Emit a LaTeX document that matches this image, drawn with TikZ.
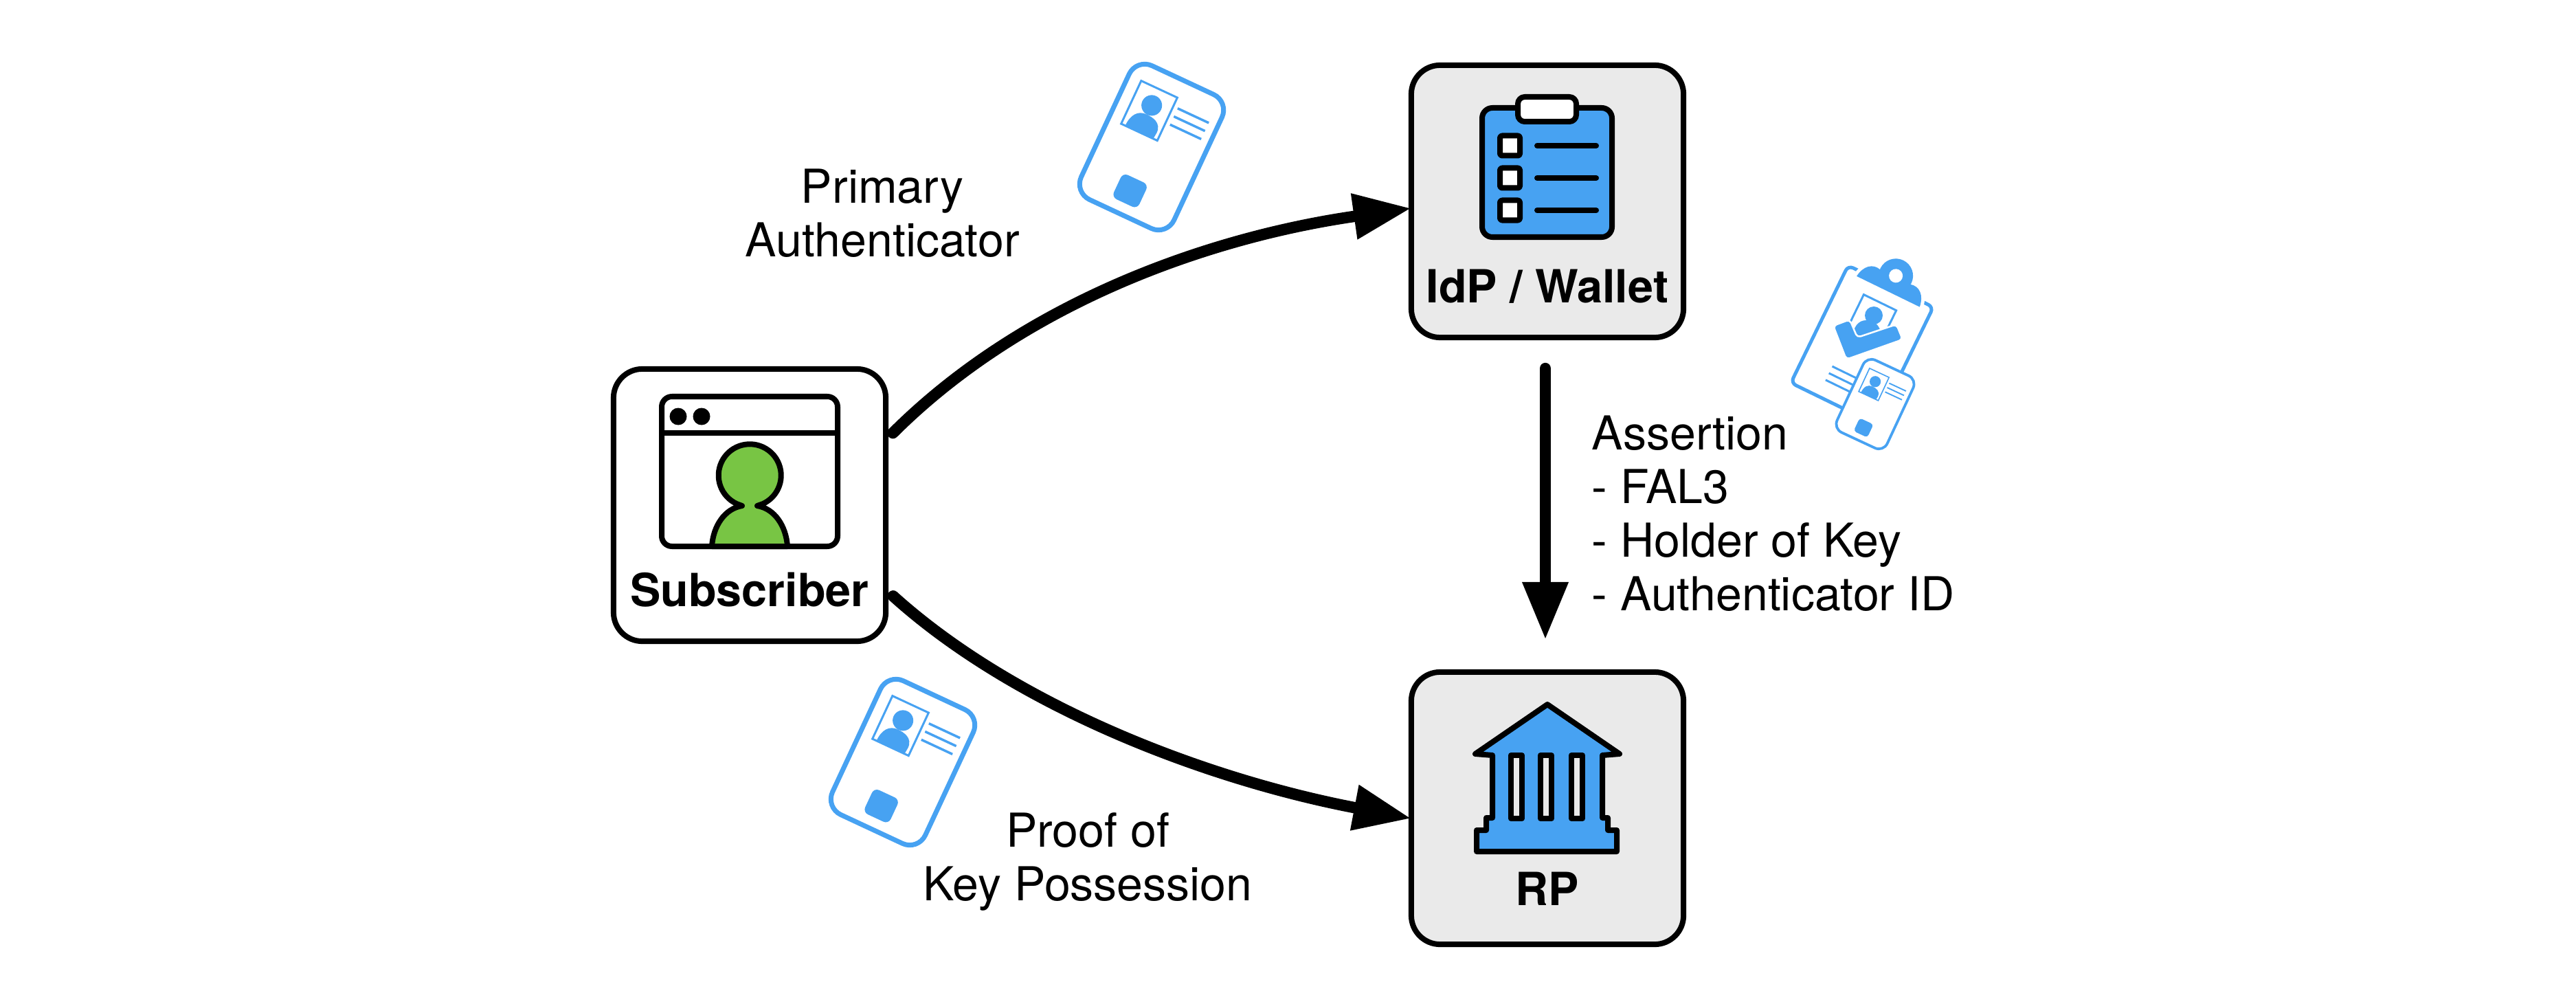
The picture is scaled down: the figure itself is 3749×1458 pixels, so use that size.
\documentclass[tikz,border=0pt]{standalone}
\usepackage{fontspec}
\setmainfont{TeX Gyre Heros}
\usetikzlibrary{arrows.meta,positioning}

\definecolor{iconblue}{HTML}{47A2F2}
\definecolor{boxgrey}{HTML}{EAEAEA}
\definecolor{usergreen}{HTML}{78C544}

\tikzset{
  actor/.style={draw, line width=0.8mm, rounded corners=4.2mm, minimum size=3.96cm, inner sep=0pt},
  actorname/.style={anchor=base, inner sep=0pt, font=\fontsize{18.9}{22}\selectfont\bfseries},
  flowtext/.style={inner sep=0pt, font=\fontsize{19.35}{22.2}\selectfont},
  flow/.style={line width=1.65mm, line cap=round, shorten >=-0.04cm, -{Triangle[length=8.4mm,width=6.3mm]}},
  icon/.style={draw, line width=0.8mm, line join=round, rounded corners=#1},
  icon/.default=1.5mm
}

% x, y, angle, scale
\newcommand{\idcard}[4]{
  \begin{scope}[shift={(#1,#2)}, rotate=#3, scale=#4]
    \draw[iconblue, fill=white, line width=#4*0.7mm, rounded corners=#4*2.5mm] (-74.5,-107.5) rectangle (74.5,107.5);
    \draw[iconblue, line width=#4*0.3mm] (-54.5,-81) rectangle (3.5,-12);
    \fill[iconblue] (-25.5,-55) circle (15);
    \fill[iconblue] (-48,-12) .. controls (-48,-30) and (-40,-40) .. (-27,-40) .. controls (-17,-40) and (-2,-38) .. (-2,-22) -- (-3,-12) -- cycle;
    \foreach \linepos in {-67,-54,-41}
      \draw[iconblue, line width=#4*0.35mm] (10.5,\linepos) -- (60.5,\linepos);
    \fill[iconblue, rounded corners=#4*0.8mm] (-22,51.5) rectangle (19,90.5);
  \end{scope}
}

\begin{document}
\begin{tikzpicture}[x=0.01cm, y=-0.01cm]
\useasboundingbox (0,0) rectangle (3749,1458);

\node[actor] (subscriber) at (1091,735) {};
\node[actor, fill=boxgrey] (idp) at (2252,293) {};
\node[actor, fill=boxgrey] (rp) at (2252,1176) {};

\node[actorname] (subscribername) at (1091,882) {Subscriber};
\node[actorname] (idpname) at (2252,441) {IdP / Wallet};
\node[actorname] (rpname) at (2252,1317) {RP};

\draw[flow, shorten <=0.09cm] (subscriber.26) .. controls (1490,440) and (1760,345) .. (idp.183);
\draw[flow, shorten <=0.09cm] (subscriber.-32) .. controls (1480,1030) and (1760,1135) .. (rp.184);
\draw[flow, shorten <=0.41cm, shorten >=0.43cm] ([xshift=-0.03cm]idp.south) -- ([xshift=-0.03cm]rp.north);

\node[flowtext, align=center] (primarytext) at (1284,310) {Primary\\Authenticator};
\node[flowtext, align=center] (possessiontext) at (1583,1254) {Proof of\\Key Possession};
\node[flowtext, align=left, anchor=west] (assertiontext) at (2316,747) {Assertion\\- FAL3\\- Holder of Key\\- Authenticator ID};

\draw[icon=1.5mm] (963,577) rectangle (1219,795);
\draw[line width=0.8mm] (963,630) -- (1219,630);
\fill (987,606) circle (12.5);
\fill (1021,606) circle (12.5);
\draw[icon=0mm, fill=usergreen] (1036,795) .. controls (1038,765) and (1055,740) .. (1080,736) -- (1072,733) arc (115:425:45.5) -- (1102,736) .. controls (1127,740) and (1144,765) .. (1146,795) -- cycle;

\draw[icon=1.5mm, fill=iconblue] (2157,157) rectangle (2346,345);
\draw[icon=1mm, fill=white] (2209,141) rectangle (2294,177);
\foreach \rowy in {212,259,306} {
  \draw[icon=0.3mm, fill=white] (2183,\rowy-14.5) rectangle (2212,\rowy+14.5);
  \draw[line width=0.8mm, line cap=round] (2237,\rowy) -- (2323,\rowy);
}

\draw[icon=0mm, fill=iconblue] (2252,1025) -- (2357,1097) -- (2332,1099) -- (2332,1190) -- (2340,1190) -- (2340,1208) -- (2353,1208) -- (2353,1239) -- (2149,1239) -- (2149,1208) -- (2163,1208) -- (2163,1190) -- (2172,1190) -- (2172,1099) -- (2147,1097) -- cycle;
\foreach \colx in {2199,2242,2287}
  \draw[icon=0mm, fill=boxgrey] (\colx,1099) rectangle (\colx+16,1191);

\idcard{1676}{214}{-25}{1}
\idcard{1314}{1109}{-25}{1}

\begin{scope}[shift={(2710,502)}, rotate=-26]
  \draw[iconblue, line width=0.5mm, rounded corners=0.8mm] (-69,-95) rectangle (69,95);
  \draw[iconblue, line width=0.3mm] (-30,-67) rectangle (22.6,-14);
  \foreach \linepos in {47,58,69}
    \draw[iconblue, line width=0.3mm] (-25.5,\linepos) -- (15,\linepos);
  \draw[white, line width=1mm, line join=round] (-51,-86.5) .. controls (-49,-104) and (-38,-114) .. (-24,-110) -- (-22,-125) -- (22,-125) -- (24,-110) .. controls (38,-114) and (49,-104) .. (51,-86.5) -- cycle;
  \fill[iconblue] (-51,-86.5) .. controls (-49,-104) and (-38,-114) .. (-24,-110) -- (24,-110) .. controls (38,-114) and (49,-104) .. (51,-86.5) -- cycle;
  \fill[iconblue] (0,-112) circle (25);
  \fill[white] (0,-112) circle (10);
\end{scope}
\fill[iconblue] (2727,459) circle (13);
\fill[iconblue] (2696,495) .. controls (2696,475) and (2705,466) .. (2716,466) .. controls (2725,466) and (2733,470) .. (2737,482) -- cycle;
\filldraw[iconblue, draw=white, line width=0.25mm, rounded corners=0.5mm] (2668,474) -- (2692,465) -- (2703,491) -- (2760,472) -- (2769,494) -- (2687,523) -- cycle;

\idcard{2729}{588}{-25}{0.54}

\end{tikzpicture}
\end{document}
